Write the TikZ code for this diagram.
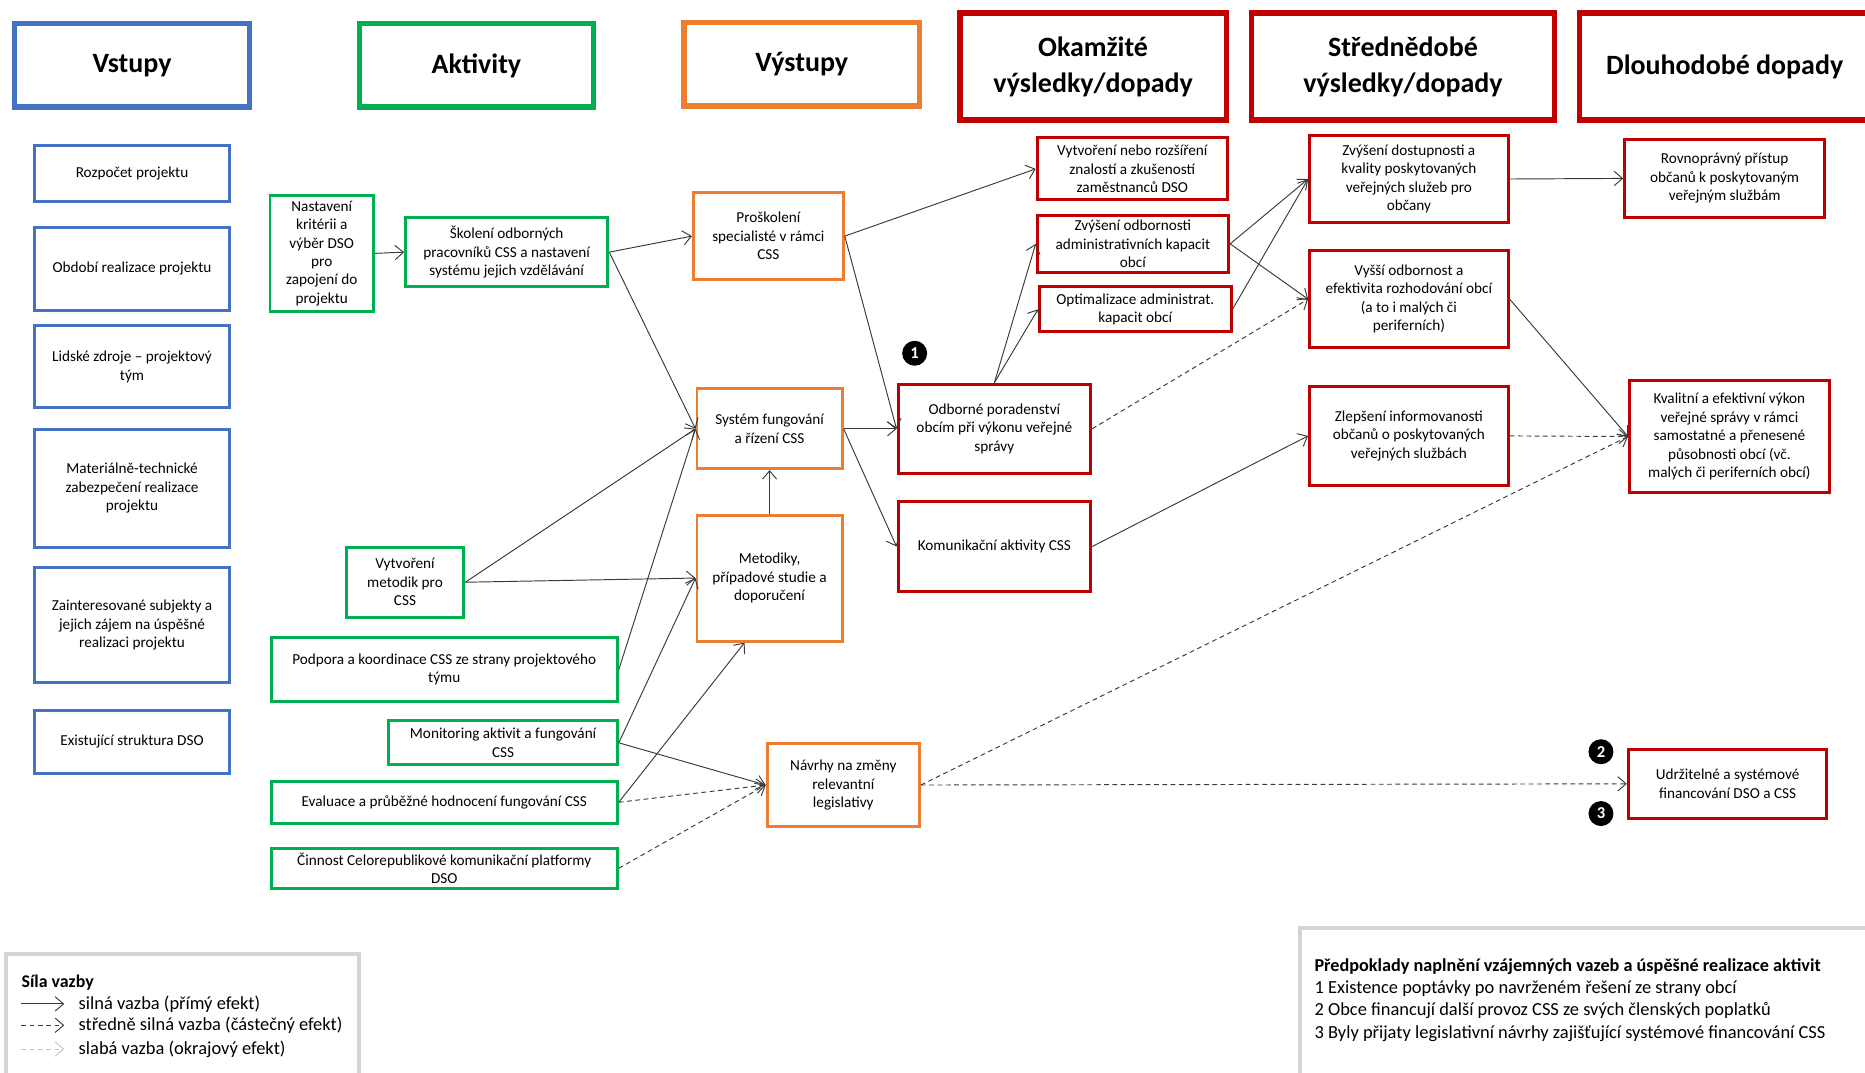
\documentclass[tikz,border=0pt]{standalone}
\usepackage{fontspec}
\setmainfont{Carlito}
\usetikzlibrary{arrows.meta, positioning}
\definecolor{inblue}{HTML}{4472C4}
\definecolor{actgreen}{HTML}{00B050}
\definecolor{outorange}{HTML}{ED7D31}
\definecolor{resred}{HTML}{C00000}
\definecolor{framegray}{HTML}{D4D4D4}
\definecolor{linkgray}{HTML}{3A3A3A}

\begin{document}
\begin{tikzpicture}[x=1pt, y=-1pt,
    box/.style={draw, line width=2.5pt, align=center, inner sep=2pt, font=\fontsize{12.8}{15.5}\selectfont},
    head/.style={draw, line width=4.5pt, align=center, font=\bfseries\fontsize{23.5}{30}\selectfont},
    inp/.style={box, draw=inblue},
    act/.style={box, draw=actgreen},
    outp/.style={box, draw=outorange},
    res/.style={box, draw=resred},
    sz/.style 2 args={minimum width=#1pt, minimum height=#2pt},
    link/.style={draw=linkgray, line width=0.8pt, -{Straight Barb[length=7pt, width=12pt]}},
    mid/.style={link, dash pattern=on 4pt off 3pt},
    weak/.style={mid, draw=gray!45},
    num/.style={circle, fill=black, text=white, inner sep=0pt, minimum size=21pt, font=\bfseries\fontsize{14}{14}\selectfont},
    legtext/.style={inner sep=0pt, anchor=west, font=\fontsize{15.5}{15.5}\selectfont},
    frame/.style={draw=framegray, line width=3pt}]
    \useasboundingbox (0,0) rectangle (1568,902);

    % column headers
    \node[head, draw=inblue, sz={198}{70}] (hvst) at (111,55) {Vstupy};
    \node[head, draw=actgreen, sz={197}{70}] (hakt) at (400.5,55) {Aktivity};
    \node[head, draw=outorange, sz={198}{70}] (hvys) at (674,54) {Výstupy};
    \node[head, draw=resred, sz={224}{90}] (hoka) at (919,56) {Okamžité\\výsledky/dopady};
    \node[head, draw=resred, sz={255}{90}] (hstr) at (1179.5,56) {Střednědobé\\výsledky/dopady};
    \node[head, draw=resred, sz={244}{90}] (hdlo) at (1450,56) {Dlouhodobé dopady};

    % vstupy
    \node[inp, sz={164}{47}] (in1) at (111,145.5) {Rozpočet projektu};
    \node[inp, sz={164}{70}] (in2) at (111,226) {Období realizace projektu};
    \node[inp, sz={164}{69}] (in3) at (111,308.5) {Lidské zdroje – projektový\\tým};
    \node[inp, sz={164}{99}] (in4) at (111,410.5) {Materiálně-technické\\zabezpečení realizace\\projektu};
    \node[inp, sz={164}{97}] (in5) at (111,525.5) {Zainteresované subjekty a\\jejich zájem na úspěšné\\realizaci projektu};
    \node[inp, sz={164}{53}] (in6) at (111,623.5) {Existující struktura DSO};

    % aktivity
    \node[act, sz={87}{98}] (a1) at (270.5,213) {Nastavení\\kritérii a\\výběr DSO\\pro\\zapojení do\\projektu};
    \node[act, sz={170}{58}] (a2) at (426,212) {Školení odborných\\pracovníků CSS a nastavení\\systému jejich vzdělávání};
    \node[act, sz={99}{59}] (a3) at (340.5,489.5) {Vytvoření\\metodik pro\\CSS};
    \node[act, sz={291}{54}] (a4) at (373.5,563) {Podpora a koordinace CSS ze strany projektového\\týmu};
    \node[act, sz={192}{37}] (a5) at (423,624.5) {Monitoring aktivit a fungování\\CSS};
    \node[act, sz={291}{35}] (a6) at (373.5,674.5) {Evaluace a průběžné hodnocení fungování CSS};
    \node[act, sz={291}{34}] (a7) at (373.5,730) {Činnost Celorepublikové komunikační platformy\\DSO};

    % vystupy
    \node[outp, sz={126}{73}] (o1) at (646,198.5) {Proškolení\\specialisté v rámci\\CSS};
    \node[outp, sz={122}{67}] (o2) at (647,360.5) {Systém fungování\\a řízení CSS};
    \node[outp, sz={122}{106}] (o3) at (647,486) {Metodiky,\\případové studie a\\doporučení};
    \node[outp, sz={128}{70}] (o4) at (709,660) {Návrhy na změny\\relevantní\\legislativy};

    % okamzite vysledky
    \node[res, sz={160}{52}] (k1) at (952,142) {Vytvoření nebo rozšíření\\znalostí a zkušeností\\zaměstnanců DSO};
    \node[res, sz={161}{48}] (k2) at (952.5,205) {Zvýšení odbornosti\\administrativních kapacit\\obcí};
    \node[res, sz={161}{38}] (k3) at (954.5,260) {Optimalizace administrat.\\kapacit obcí};
    \node[res, sz={162}{75}] (k4) at (836,360.5) {Odborné poradenství\\obcím při výkonu veřejné\\správy};
    \node[res, sz={162}{75}] (k5) at (836,459.5) {Komunikační aktivity CSS};

    % strednedobe vysledky
    \node[res, sz={167}{73}] (s1) at (1184.5,150.5) {Zvýšení dostupnosti a\\kvality poskytovaných\\veřejných služeb pro\\občany};
    \node[res, sz={167}{81}] (s2) at (1184.5,251.5) {Vyšší odbornost a\\efektivita rozhodování obcí\\(a to i malých či\\periferních)};
    \node[res, sz={167}{83}] (s3) at (1184.5,366.5) {Zlepšení informovanosti\\občanů o poskytovaných\\veřejných službách};

    % dlouhodobe dopady
    \node[res, sz={168}{66}] (d1) at (1450,150) {Rovnoprávný přístup\\občanů k poskytovaným\\veřejným službám};
    \node[res, sz={168}{94}] (d2) at (1454,367) {Kvalitní a efektivní výkon\\veřejné správy v rámci\\samostatné a přenesené\\působnosti obcí (vč.\\malých či periferních obcí)};
    \node[res, sz={167}{58}] (d3) at (1452.5,659) {Udržitelné a systémové\\financování DSO a CSS};

    % predpoklady
    \node[num] (n1) at (769,297) {1};
    \node[num] (n2) at (1346,632) {2};
    \node[num] (n3) at (1346,684) {3};

    % vazby
    \draw[link] (a1.east) -- (a2.west);
    \draw[link] (a2.east) -- (o1.west);
    \draw[link] (a2.east) -- (o2.west);
    \draw[link] (a3.east) -- (o2.west);
    \draw[link] (a3.east) -- (o3.west);
    \draw[link] (a4.east) -- (o2.west);
    \draw[link] (a5.east) -- (o3.west);
    \draw[link] (a5.east) -- (o4.west);
    \draw[link] (a6.east) -- ([xshift=-21pt]o3.south);
    \draw[mid] (a6.east) -- (o4.west);
    \draw[mid] (a7.east) -- (o4.west);
    \draw[link] (o3.north) -- (o2.south);
    \draw[link] (o1.east) -- (k1.west);
    \draw[link] (o1.east) -- (k4.west);
    \draw[link] (o2.east) -- (k4.west);
    \draw[link] (o2.east) -- (k5.west);
    \draw[link] (k4.north) -- (k2.west);
    \draw[link] (k4.north) -- (k3.west);
    \draw[mid] (k4.east) -- (s2.west);
    \draw[link] (k5.east) -- (s3.west);
    \draw[link] (k2.east) -- (s1.west);
    \draw[link] (k2.east) -- (s2.west);
    \draw[link] (k3.east) -- (s1.west);
    \draw[link] (s1.east) -- (d1.west);
    \draw[link] (s2.east) -- (d2.west);
    \draw[mid] (s3.east) -- (d2.west);
    \draw[mid] (o4.east) -- (d2.west);
    \draw[mid] (o4.east) -- (d3.west);

    % legenda
    \draw[frame] (5,802) rectangle (302,915);
    \node[legtext, font=\bfseries\fontsize{15}{15}\selectfont] (legt) at (18,826) {Síla vazby};
    \coordinate (l1a) at (18,844);
    \coordinate (l1b) at (54,844);
    \coordinate (l2a) at (18,862);
    \coordinate (l2b) at (54,862);
    \coordinate (l3a) at (18,882);
    \coordinate (l3b) at (54,882);
    \draw[link] (l1a) -- (l1b);
    \draw[mid] (l2a) -- (l2b);
    \draw[weak] (l3a) -- (l3b);
    \node[legtext, right=12pt of l1b] (l1t) {silná vazba (přímý efekt)};
    \node[legtext, right=12pt of l2b] (l2t) {středně silná vazba (částečný efekt)};
    \node[legtext, right=12pt of l3b] (l3t) {slabá vazba (okrajový efekt)};

    \draw[frame] (1093,780) rectangle (1575,915);
    \node[legtext, font=\bfseries\fontsize{15.3}{15.3}\selectfont] (pt) at (1105,813) {Předpoklady naplnění vzájemných vazeb a úspěšné realizace aktivit};
    \node[legtext] (p1) at (1105,831) {1 Existence poptávky po navrženém řešení ze strany obcí};
    \node[legtext] (p2) at (1105,850) {2 Obce financují další provoz CSS ze svých členských poplatků};
    \node[legtext] (p3) at (1105,869) {3 Byly přijaty legislativní návrhy zajišťující systémové financování CSS};
\end{tikzpicture}
\end{document}
